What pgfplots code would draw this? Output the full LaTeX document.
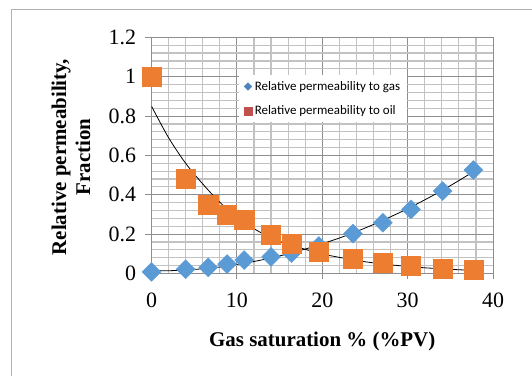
\documentclass[border=0pt]{standalone}
\usepackage{fontspec}
\setmainfont{Liberation Serif}
\newfontfamily\carlito{Carlito}
\usepackage{pgfplots}
\pgfplotsset{compat=1.18}
\usepackage{pgfplotstable}
\definecolor{gasblue}{HTML}{5B9BD5}
\definecolor{oilorange}{HTML}{ED7D31}
\definecolor{legred}{HTML}{C0504D}
\definecolor{legblue}{HTML}{4F81BD}
\definecolor{majgrid}{HTML}{8E8E8E}
\definecolor{mingrid}{HTML}{C2C2C2}

\pgfplotstableread{
x y
0 0.008
4.0 0.022
6.65 0.031
8.85 0.048
10.85 0.068
14.0 0.084
16.4 0.104
19.6 0.140
23.6 0.203
27.1 0.258
30.4 0.326
34.1 0.419
37.7 0.526
}\gasdata

\pgfplotstableread{
x y
0 1.0
4.0 0.483
6.65 0.348
8.85 0.300
10.85 0.272
14.0 0.196
16.4 0.150
19.6 0.111
23.6 0.077
27.1 0.055
30.4 0.038
34.1 0.026
37.7 0.018
}\oildata

\pgfplotstableread{
x y
0 0.014
2 0.014
4 0.018
6 0.024
8 0.033
10 0.046
12 0.061
14 0.079
16 0.100
18 0.124
20 0.151
22 0.180
24 0.213
26 0.249
28 0.288
30 0.329
32 0.374
34 0.421
36 0.472
37.7 0.517
}\gastrend

\pgfplotstableread{
x y
0 0.850
2 0.690
4 0.560
6 0.455
8 0.362
10 0.285
12 0.228
14 0.180
16 0.148
18 0.123
20 0.099
22 0.082
24 0.066
26 0.054
28 0.044
30 0.036
32 0.029
34 0.024
36 0.019
37.7 0.016
}\oiltrend

\begin{document}
\begin{tikzpicture}
\useasboundingbox (0,0) rectangle (532bp,376bp);
\clip (0,0) rectangle (532bp,376bp);
\draw[gray!60, line width=0.8bp] (11bp,-10bp) -- (11bp,367bp) -- (545bp,367bp);
\begin{axis}[
  at={(151.5bp,102.5bp)}, anchor=south west,
  scale only axis, width=341.5bp, height=236.2bp,
  xmin=0, xmax=40, ymin=0, ymax=1.2,
  xtick={0,10,20,30,40},
  ytick={0,0.2,0.4,0.6,0.8,1,1.2},
  minor x tick num=4, minor y tick num=4,
  grid=both,
  major grid style={draw=majgrid, line width=1bp},
  minor grid style={draw=mingrid, line width=1.2bp},
  axis line style={draw=majgrid, line width=1bp},
  tick pos=left, tick align=outside,
  major tick length=6bp, minor tick length=0bp,
  tick style={draw=majgrid, line width=1bp},
  /pgf/number format/assume math mode=true,
  tick label style={font=\fontsize{22}{22}\selectfont},
  xticklabel style={yshift=-10bp},
  yticklabel style={xshift=-6bp},
  xlabel={Gas saturation \% (\%PV)},
  xlabel style={at={(axis description cs:0.5,-0.286)}, anchor=center, font=\bfseries\fontsize{21}{24}\selectfont},
  ylabel={Relative permeability,\\Fraction},
  ylabel style={at={(axis description cs:-0.236,0.493)}, anchor=center, align=center, font=\bfseries\fontsize{21}{24}\selectfont},
  legend image code/.code={\draw[#1] plot coordinates {(0bp,0bp)};},
  legend cell align=left,
  legend style={at={(axis description cs:0.256,0.840)}, anchor=north west,
    draw=none, fill=white, font=\carlito\fontsize{13}{13.5}\selectfont,
    inner xsep=5bp, inner ysep=4bp, row sep=10bp,
    /tikz/every odd column/.append style={column sep=1bp}},
]
\addplot[only marks, mark=square*, mark size=6.7bp, mark options={rotate=45, fill=gasblue, draw=gasblue}, forget plot] table {\gasdata};
\addplot[only marks, mark=square*, mark size=9.6bp, mark options={fill=oilorange, draw=oilorange}, forget plot] table {\oildata};
\addplot[black, line width=0.8bp, smooth, no marks, forget plot] table {\oiltrend};
\addplot[black, line width=0.8bp, smooth, no marks, forget plot] table {\gastrend};
\addlegendimage{only marks, mark=square*, mark size=2.7bp, mark options={rotate=45, fill=legblue, draw=legblue}}
\addlegendentry{Relative permeability to gas}
\addlegendimage{only marks, mark=square*, mark size=3.8bp, mark options={fill=legred, draw=legred}}
\addlegendentry{Relative permeability to oil}
\end{axis}
\end{tikzpicture}
\end{document}
